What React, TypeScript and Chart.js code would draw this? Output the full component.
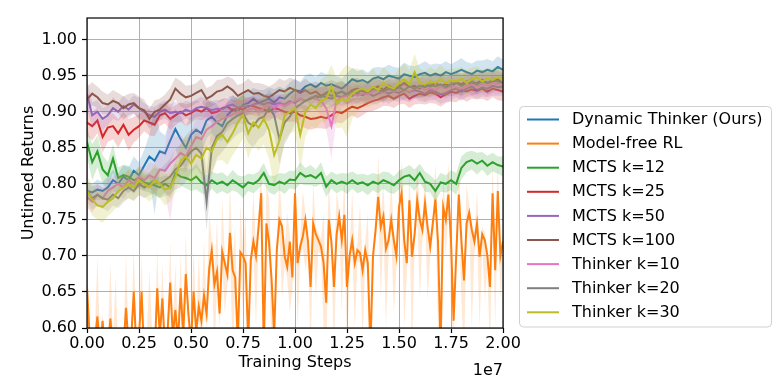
import React, { useEffect, useRef } from "react";
import { Chart, registerables } from "chart.js";

Chart.register(...registerables);

// Training steps (x, in units of 1e7)
const STEPS = [
  0.000, 0.025, 0.050, 0.075, 0.100, 0.125, 0.150, 0.175, 0.200, 0.225,
  0.250, 0.275, 0.300, 0.325, 0.350, 0.375, 0.400, 0.425, 0.450, 0.475,
  0.500, 0.525, 0.550, 0.575, 0.600, 0.625, 0.650, 0.675, 0.700, 0.725,
  0.750, 0.775, 0.800, 0.825, 0.850, 0.875, 0.900, 0.925, 0.950, 0.975,
  1.000, 1.025, 1.050, 1.075, 1.100, 1.125, 1.150, 1.175, 1.200, 1.225,
  1.250, 1.275, 1.300, 1.325, 1.350, 1.375, 1.400, 1.425, 1.450, 1.475,
  1.500, 1.525, 1.550, 1.575, 1.600, 1.625, 1.650, 1.675, 1.700, 1.725,
  1.750, 1.775, 1.800, 1.825, 1.850, 1.875, 1.900, 1.925, 1.950, 1.975,
  2.000,
];

const STEPS_FINE = [
  0.0000, 0.0125, 0.0250, 0.0375, 0.0500, 0.0625, 0.0750, 0.0875,
  0.1000, 0.1125, 0.1250, 0.1375, 0.1500, 0.1625, 0.1750, 0.1875,
  0.2000, 0.2125, 0.2250, 0.2375, 0.2500, 0.2625, 0.2750, 0.2875,
  0.3000, 0.3125, 0.3250, 0.3375, 0.3500, 0.3625, 0.3750, 0.3875,
  0.4000, 0.4125, 0.4250, 0.4375, 0.4500, 0.4625, 0.4750, 0.4875,
  0.5000, 0.5125, 0.5250, 0.5375, 0.5500, 0.5625, 0.5750, 0.5875,
  0.6000, 0.6125, 0.6250, 0.6375, 0.6500, 0.6625, 0.6750, 0.6875,
  0.7000, 0.7125, 0.7250, 0.7375, 0.7500, 0.7625, 0.7750, 0.7875,
  0.8000, 0.8125, 0.8250, 0.8375, 0.8500, 0.8625, 0.8750, 0.8875,
  0.9000, 0.9125, 0.9250, 0.9375, 0.9500, 0.9625, 0.9750, 0.9875,
  1.0000, 1.0125, 1.0250, 1.0375, 1.0500, 1.0625, 1.0750, 1.0875,
  1.1000, 1.1125, 1.1250, 1.1375, 1.1500, 1.1625, 1.1750, 1.1875,
  1.2000, 1.2125, 1.2250, 1.2375, 1.2500, 1.2625, 1.2750, 1.2875,
  1.3000, 1.3125, 1.3250, 1.3375, 1.3500, 1.3625, 1.3750, 1.3875,
  1.4000, 1.4125, 1.4250, 1.4375, 1.4500, 1.4625, 1.4750, 1.4875,
  1.5000, 1.5125, 1.5250, 1.5375, 1.5500, 1.5625, 1.5750, 1.5875,
  1.6000, 1.6125, 1.6250, 1.6375, 1.6500, 1.6625, 1.6750, 1.6875,
  1.7000, 1.7125, 1.7250, 1.7375, 1.7500, 1.7625, 1.7750, 1.7875,
  1.8000, 1.8125, 1.8250, 1.8375, 1.8500, 1.8625, 1.8750, 1.8875,
  1.9000, 1.9125, 1.9250, 1.9375, 1.9500, 1.9625, 1.9750, 1.9875,
  2.0000,
];

const Y_TICKS = [0.6, 0.65, 0.7, 0.75, 0.8, 0.85, 0.9, 0.95, 1.0];
const X_TICKS = [0, 0.25, 0.5, 0.75, 1.0, 1.25, 1.5, 1.75, 2.0];

// ---- Dynamic Thinker (Ours)
const BLUE = [
  0.790, 0.788, 0.792, 0.790, 0.795, 0.805, 0.800, 0.810, 0.805, 0.818,
  0.812, 0.825, 0.838, 0.832, 0.845, 0.842, 0.860, 0.876, 0.862, 0.850,
  0.868, 0.875, 0.870, 0.888, 0.893, 0.885, 0.880, 0.895, 0.903, 0.900,
  0.910, 0.912, 0.918, 0.912, 0.915, 0.918, 0.913, 0.920, 0.918, 0.925,
  0.930, 0.928, 0.935, 0.938, 0.934, 0.940, 0.936, 0.938, 0.935, 0.932,
  0.938, 0.945, 0.942, 0.944, 0.940, 0.946, 0.948, 0.945, 0.950, 0.948,
  0.946, 0.952, 0.950, 0.948, 0.952, 0.954, 0.950, 0.953, 0.950, 0.955,
  0.952, 0.955, 0.958, 0.955, 0.952, 0.957, 0.955, 0.958, 0.956, 0.962,
  0.958,
];
const BLUE_SPREAD = [
  12, 12, 14, 12, 15, 15, 14, 16, 18, 20,
  18, 22, 30, 75, 28, 25, 30, 28, 32, 30,
  28, 25, 30, 25, 22, 25, 20, 18, 20, 18,
  15, 16, 15, 18, 15, 16, 18, 15, 14, 16,
  15, 14, 16, 15, 14, 15, 16, 14, 15, 14,
  15, 16, 14, 15, 14, 15, 14, 16, 15, 14,
  15, 16, 14, 15, 14, 16, 15, 14, 16, 15,
  14, 15, 16, 14, 15, 14, 16, 15, 14, 15,
  14,
];

// ---- Model-free RL
const ORANGE = [
  0.657, 0.590, 0.570, 0.580, 0.616, 0.570, 0.610, 0.560, 0.570, 0.613,
  0.570, 0.580, 0.560, 0.590, 0.570, 0.628, 0.575, 0.585, 0.650, 0.570,
  0.590, 0.650, 0.560, 0.580, 0.570, 0.590, 0.560, 0.655, 0.590, 0.641,
  0.570, 0.595, 0.663, 0.590, 0.625, 0.580, 0.655, 0.590, 0.675, 0.620,
  0.580, 0.650, 0.595, 0.630, 0.610, 0.645, 0.620, 0.682, 0.708, 0.660,
  0.678, 0.620, 0.706, 0.690, 0.674, 0.732, 0.680, 0.670, 0.580, 0.705,
  0.700, 0.690, 0.580, 0.695, 0.720, 0.700, 0.741, 0.787, 0.570, 0.745,
  0.720, 0.667, 0.590, 0.708, 0.750, 0.741, 0.700, 0.685, 0.720, 0.670,
  0.787, 0.690, 0.713, 0.727, 0.750, 0.720, 0.657, 0.745, 0.730, 0.722,
  0.713, 0.690, 0.635, 0.750, 0.720, 0.657, 0.730, 0.755, 0.722, 0.757,
  0.657, 0.700, 0.722, 0.690, 0.708, 0.704, 0.680, 0.708, 0.690, 0.570,
  0.700, 0.736, 0.782, 0.740, 0.755, 0.710, 0.722, 0.750, 0.722, 0.700,
  0.768, 0.787, 0.722, 0.690, 0.777, 0.699, 0.730, 0.777, 0.750, 0.736,
  0.773, 0.740, 0.713, 0.745, 0.778, 0.720, 0.570, 0.768, 0.750, 0.785,
  0.722, 0.610, 0.700, 0.785, 0.722, 0.666, 0.745, 0.760, 0.736, 0.720,
  0.745, 0.699, 0.730, 0.722, 0.700, 0.657, 0.787, 0.680, 0.790, 0.700,
  0.720,
];
const ORANGE_HI = [
  0.668, 0.600, 0.580, 0.590, 0.700, 0.580, 0.620, 0.570, 0.580, 0.690,
  0.580, 0.670, 0.570, 0.600, 0.580, 0.700, 0.585, 0.600, 0.710, 0.580,
  0.600, 0.700, 0.570, 0.590, 0.680, 0.600, 0.570, 0.710, 0.600, 0.690,
  0.580, 0.605, 0.720, 0.600, 0.690, 0.590, 0.700, 0.600, 0.730, 0.630,
  0.590, 0.710, 0.605, 0.700, 0.620, 0.720, 0.630, 0.760, 0.720, 0.670,
  0.750, 0.630, 0.780, 0.700, 0.684, 0.800, 0.690, 0.740, 0.590, 0.770,
  0.710, 0.760, 0.590, 0.705, 0.790, 0.710, 0.751, 0.830, 0.580, 0.800,
  0.780, 0.677, 0.600, 0.718, 0.810, 0.751, 0.710, 0.760, 0.730, 0.680,
  0.830, 0.700, 0.723, 0.790, 0.760, 0.730, 0.667, 0.800, 0.740, 0.732,
  0.723, 0.760, 0.645, 0.810, 0.730, 0.667, 0.790, 0.765, 0.732, 0.810,
  0.667, 0.710, 0.790, 0.700, 0.718, 0.770, 0.690, 0.718, 0.760, 0.580,
  0.710, 0.746, 0.840, 0.750, 0.800, 0.720, 0.732, 0.810, 0.732, 0.710,
  0.800, 0.830, 0.732, 0.700, 0.820, 0.709, 0.740, 0.830, 0.760, 0.746,
  0.810, 0.750, 0.723, 0.755, 0.830, 0.730, 0.580, 0.810, 0.760, 0.830,
  0.732, 0.620, 0.710, 0.830, 0.732, 0.676, 0.800, 0.770, 0.746, 0.730,
  0.790, 0.709, 0.740, 0.732, 0.710, 0.667, 0.830, 0.690, 0.830, 0.710,
  0.730,
];
const ORANGE_LO = [
  0.640, 0.570, 0.550, 0.560, 0.600, 0.550, 0.590, 0.540, 0.550, 0.600,
  0.550, 0.560, 0.540, 0.570, 0.550, 0.610, 0.555, 0.565, 0.630, 0.550,
  0.570, 0.630, 0.540, 0.560, 0.550, 0.570, 0.540, 0.635, 0.570, 0.620,
  0.550, 0.575, 0.645, 0.570, 0.605, 0.560, 0.635, 0.570, 0.655, 0.600,
  0.560, 0.630, 0.575, 0.610, 0.590, 0.625, 0.600, 0.660, 0.690, 0.560,
  0.660, 0.600, 0.690, 0.620, 0.660, 0.715, 0.560, 0.655, 0.560, 0.690,
  0.620, 0.675, 0.560, 0.680, 0.705, 0.600, 0.725, 0.770, 0.550, 0.730,
  0.705, 0.560, 0.570, 0.690, 0.735, 0.640, 0.685, 0.670, 0.620, 0.655,
  0.770, 0.600, 0.700, 0.712, 0.680, 0.705, 0.560, 0.730, 0.640, 0.707,
  0.700, 0.600, 0.560, 0.735, 0.705, 0.560, 0.715, 0.740, 0.620, 0.742,
  0.560, 0.685, 0.707, 0.600, 0.693, 0.690, 0.580, 0.693, 0.675, 0.550,
  0.685, 0.720, 0.767, 0.640, 0.740, 0.600, 0.707, 0.735, 0.620, 0.685,
  0.753, 0.772, 0.600, 0.675, 0.762, 0.560, 0.715, 0.762, 0.640, 0.721,
  0.758, 0.640, 0.698, 0.730, 0.763, 0.600, 0.550, 0.753, 0.700, 0.770,
  0.620, 0.590, 0.685, 0.770, 0.640, 0.560, 0.730, 0.745, 0.600, 0.705,
  0.730, 0.600, 0.715, 0.640, 0.685, 0.560, 0.772, 0.600, 0.775, 0.640,
  0.700,
];

// ---- MCTS k=12
const GREEN = [
  0.858, 0.830, 0.845, 0.820, 0.812, 0.835, 0.808, 0.812, 0.810, 0.805,
  0.808, 0.802, 0.800, 0.798, 0.795, 0.800, 0.795, 0.815, 0.810, 0.808,
  0.805, 0.810, 0.802, 0.798, 0.805, 0.800, 0.803, 0.798, 0.805, 0.800,
  0.795, 0.802, 0.800, 0.805, 0.815, 0.800, 0.798, 0.803, 0.800, 0.806,
  0.805, 0.815, 0.810, 0.812, 0.808, 0.815, 0.796, 0.805, 0.800, 0.803,
  0.800, 0.805, 0.800, 0.802, 0.798, 0.803, 0.800, 0.805, 0.802, 0.798,
  0.805, 0.810, 0.812, 0.805, 0.815, 0.803, 0.800, 0.790, 0.802, 0.800,
  0.805, 0.800, 0.822, 0.830, 0.833, 0.828, 0.832, 0.825, 0.830, 0.826,
  0.824,
];
const GREEN_SPREAD = [
  20, 25, 22, 20, 18, 20, 15, 14, 15, 12,
  14, 12, 12, 13, 14, 12, 15, 14, 12, 14,
  15, 18, 15, 14, 12, 14, 13, 12, 14, 12,
  15, 12, 13, 12, 14, 12, 13, 12, 14, 12,
  13, 15, 12, 14, 12, 15, 14, 12, 13, 12,
  14, 12, 13, 12, 14, 12, 13, 12, 14, 12,
  13, 12, 14, 15, 13, 14, 12, 15, 13, 12,
  14, 15, 16, 14, 13, 15, 12, 14, 13, 12,
  14,
];

// ---- MCTS k=25
const RED = [
  0.885, 0.880, 0.888, 0.865, 0.878, 0.880, 0.870, 0.882, 0.868, 0.875,
  0.880, 0.888, 0.885, 0.882, 0.895, 0.898, 0.890, 0.895, 0.900, 0.895,
  0.898, 0.903, 0.900, 0.905, 0.898, 0.900, 0.905, 0.907, 0.902, 0.905,
  0.903, 0.908, 0.908, 0.905, 0.903, 0.900, 0.905, 0.903, 0.900, 0.898,
  0.900, 0.895, 0.893, 0.890, 0.891, 0.893, 0.891, 0.895, 0.900, 0.898,
  0.903, 0.907, 0.905, 0.908, 0.912, 0.915, 0.917, 0.920, 0.922, 0.918,
  0.922, 0.925, 0.918, 0.922, 0.925, 0.923, 0.927, 0.925, 0.920, 0.924,
  0.928, 0.926, 0.930, 0.928, 0.931, 0.929, 0.932, 0.928, 0.932, 0.930,
  0.928,
];
const RED_SPREAD = [
  18, 20, 18, 22, 20, 18, 20, 18, 22, 18,
  16, 15, 18, 16, 15, 14, 15, 14, 13, 15,
  14, 13, 12, 14, 13, 12, 13, 12, 14, 12,
  13, 12, 13, 12, 14, 13, 12, 14, 13, 12,
  14, 15, 16, 15, 14, 16, 15, 14, 15, 14,
  13, 12, 14, 13, 12, 14, 13, 12, 14, 13,
  12, 14, 13, 12, 14, 13, 15, 14, 13, 12,
  14, 13, 12, 14, 13, 12, 14, 13, 12, 14,
  13,
];

// ---- MCTS k=50
const PURPLE = [
  0.925, 0.895, 0.900, 0.890, 0.895, 0.905, 0.900, 0.908, 0.903, 0.910,
  0.905, 0.900, 0.895, 0.893, 0.900, 0.903, 0.898, 0.900, 0.898, 0.903,
  0.900, 0.905, 0.907, 0.905, 0.902, 0.904, 0.903, 0.908, 0.910, 0.906,
  0.908, 0.907, 0.910, 0.912, 0.910, 0.913, 0.910, 0.912, 0.910, 0.915,
  0.912, 0.918, 0.915, 0.920, 0.918, 0.922, 0.920, 0.918, 0.922, 0.920,
  0.925, 0.922, 0.925, 0.923, 0.926, 0.922, 0.925, 0.928, 0.925, 0.928,
  0.926, 0.930, 0.927, 0.930, 0.928, 0.925, 0.930, 0.928, 0.924, 0.926,
  0.930, 0.932, 0.928, 0.932, 0.935, 0.930, 0.934, 0.932, 0.936, 0.934,
  0.935,
];
const PURPLE_SPREAD = [
  20, 18, 16, 15, 14, 15, 13, 14, 12, 13,
  14, 12, 13, 14, 12, 13, 12, 14, 13, 12,
  13, 12, 14, 12, 13, 12, 14, 12, 13, 12,
  14, 12, 13, 12, 14, 12, 13, 12, 14, 12,
  13, 12, 14, 12, 13, 12, 14, 12, 13, 12,
  14, 12, 13, 12, 14, 12, 13, 12, 14, 12,
  13, 12, 14, 12, 13, 12, 14, 12, 13, 12,
  14, 12, 13, 12, 14, 12, 13, 12, 14, 12,
  13,
];

// ---- MCTS k=100
const BROWN = [
  0.917, 0.925, 0.920, 0.912, 0.910, 0.915, 0.912, 0.905, 0.910, 0.912,
  0.905, 0.902, 0.890, 0.900, 0.903, 0.910, 0.917, 0.932, 0.925, 0.920,
  0.922, 0.926, 0.930, 0.918, 0.922, 0.928, 0.930, 0.935, 0.930, 0.922,
  0.926, 0.930, 0.925, 0.926, 0.922, 0.920, 0.925, 0.930, 0.928, 0.933,
  0.930, 0.926, 0.930, 0.925, 0.928, 0.922, 0.926, 0.930, 0.925, 0.928,
  0.924, 0.930, 0.932, 0.928, 0.926, 0.932, 0.935, 0.930, 0.936, 0.932,
  0.935, 0.940, 0.934, 0.936, 0.932, 0.938, 0.935, 0.940, 0.936, 0.938,
  0.935, 0.940, 0.938, 0.942, 0.938, 0.940, 0.944, 0.940, 0.942, 0.945,
  0.940,
];
const BROWN_SPREAD = [
  18, 16, 15, 16, 14, 15, 14, 16, 15, 14,
  16, 15, 14, 16, 15, 14, 16, 15, 18, 16,
  15, 14, 16, 15, 14, 16, 15, 14, 16, 15,
  14, 16, 15, 14, 16, 15, 14, 16, 15, 14,
  15, 14, 16, 15, 14, 16, 15, 14, 16, 15,
  14, 16, 15, 14, 16, 15, 14, 16, 15, 14,
  15, 14, 16, 15, 14, 16, 15, 14, 16, 15,
  14, 16, 15, 14, 16, 15, 14, 16, 15, 14,
  15,
];

// ---- Thinker k=10
const PINK = [
  0.782, 0.775, 0.785, 0.780, 0.790, 0.795, 0.800, 0.795, 0.805, 0.800,
  0.810, 0.805, 0.812, 0.808, 0.820, 0.818, 0.828, 0.835, 0.843, 0.838,
  0.852, 0.865, 0.862, 0.875, 0.880, 0.886, 0.890, 0.893, 0.896, 0.900,
  0.898, 0.903, 0.905, 0.900, 0.905, 0.908, 0.905, 0.910, 0.908, 0.912,
  0.915, 0.918, 0.915, 0.920, 0.918, 0.915, 0.905, 0.880, 0.915, 0.920,
  0.922, 0.925, 0.922, 0.926, 0.924, 0.928, 0.930, 0.926, 0.930, 0.928,
  0.932, 0.930, 0.928, 0.932, 0.935, 0.930, 0.933, 0.930, 0.935, 0.932,
  0.936, 0.934, 0.932, 0.936, 0.938, 0.935, 0.938, 0.936, 0.940, 0.938,
  0.940,
];
const PINK_SPREAD = [
  15, 15, 14, 15, 16, 15, 14, 16, 15, 14,
  16, 15, 18, 20, 25, 30, 80, 30, 25, 22,
  20, 25, 28, 25, 22, 20, 18, 20, 18, 16,
  15, 16, 15, 14, 15, 16, 15, 14, 15, 14,
  15, 14, 15, 14, 16, 20, 30, 45, 25, 15,
  14, 15, 14, 15, 14, 13, 14, 15, 14, 13,
  14, 15, 14, 13, 14, 15, 14, 13, 14, 15,
  14, 13, 14, 15, 14, 13, 14, 15, 14, 13,
  14,
];

// ---- Thinker k=20
const GRAY = [
  0.790, 0.780, 0.785, 0.780, 0.778, 0.785, 0.780, 0.790, 0.795, 0.790,
  0.800, 0.795, 0.800, 0.805, 0.800, 0.805, 0.810, 0.820, 0.825, 0.835,
  0.845, 0.850, 0.842, 0.775, 0.850, 0.866, 0.872, 0.884, 0.890, 0.895,
  0.898, 0.885, 0.880, 0.890, 0.893, 0.905, 0.895, 0.862, 0.885, 0.893,
  0.905, 0.910, 0.915, 0.918, 0.922, 0.920, 0.925, 0.922, 0.925, 0.928,
  0.924, 0.928, 0.926, 0.930, 0.928, 0.932, 0.930, 0.928, 0.932, 0.930,
  0.934, 0.930, 0.935, 0.932, 0.936, 0.934, 0.937, 0.935, 0.938, 0.934,
  0.938, 0.940, 0.936, 0.940, 0.942, 0.938, 0.942, 0.940, 0.944, 0.942,
  0.940,
];
const GRAY_SPREAD = [
  15, 16, 15, 14, 16, 15, 14, 16, 15, 14,
  16, 15, 16, 18, 20, 22, 25, 28, 30, 32,
  30, 28, 30, 40, 35, 30, 28, 30, 28, 26,
  25, 28, 30, 28, 26, 25, 28, 35, 30, 25,
  22, 20, 18, 16, 15, 14, 15, 14, 15, 14,
  13, 14, 15, 14, 13, 14, 15, 14, 13, 14,
  15, 14, 13, 14, 15, 14, 13, 14, 15, 14,
  13, 14, 15, 14, 13, 14, 15, 14, 13, 14,
  13,
];

// ---- Thinker k=30
const OLIVE = [
  0.790, 0.778, 0.770, 0.768, 0.775, 0.780, 0.790, 0.795, 0.800, 0.795,
  0.805, 0.800, 0.795, 0.805, 0.800, 0.792, 0.795, 0.810, 0.832, 0.838,
  0.828, 0.840, 0.835, 0.850, 0.845, 0.862, 0.868, 0.858, 0.870, 0.885,
  0.895, 0.870, 0.885, 0.878, 0.890, 0.875, 0.840, 0.860, 0.895, 0.900,
  0.905, 0.868, 0.900, 0.910, 0.905, 0.915, 0.918, 0.935, 0.912, 0.918,
  0.915, 0.925, 0.930, 0.932, 0.928, 0.935, 0.930, 0.940, 0.935, 0.932,
  0.940, 0.945, 0.938, 0.955, 0.940, 0.938, 0.942, 0.940, 0.945, 0.940,
  0.944, 0.942, 0.946, 0.940, 0.945, 0.948, 0.942, 0.946, 0.944, 0.948,
  0.945,
];
const OLIVE_SPREAD = [
  20, 22, 20, 22, 20, 18, 20, 18, 20, 18,
  20, 18, 20, 22, 20, 22, 20, 22, 25, 28,
  30, 32, 30, 35, 32, 30, 35, 32, 30, 35,
  32, 35, 30, 32, 35, 40, 45, 40, 35, 30,
  32, 50, 35, 30, 28, 30, 32, 30, 35, 40,
  50, 35, 30, 25, 22, 25, 20, 22, 20, 18,
  20, 22, 20, 25, 20, 18, 20, 18, 20, 18,
  16, 18, 16, 18, 16, 15, 16, 15, 16, 15,
  16,
];

const FONT = "'DejaVu Sans', 'Liberation Sans', sans-serif";

type SeriesDef = {
  label: string;
  color: string;
  alpha: number;
  x: number[];
  mean: number[];
  lo: number[];
  hi: number[];
};

const band = (mean: number[], spread: number[], sign: number) =>
  mean.map((m, i) => m + (sign * spread[i]) / 1000);

const SERIES: SeriesDef[] = [
  { label: "Dynamic Thinker (Ours)", color: "#1f77b4", alpha: 0.2, x: STEPS, mean: BLUE, lo: band(BLUE, BLUE_SPREAD, -1), hi: band(BLUE, BLUE_SPREAD, 1) },
  { label: "Model-free RL", color: "#ff7f0e", alpha: 0.18, x: STEPS_FINE, mean: ORANGE, lo: ORANGE_LO, hi: ORANGE_HI },
  { label: "MCTS k=12", color: "#2ca02c", alpha: 0.2, x: STEPS, mean: GREEN, lo: band(GREEN, GREEN_SPREAD, -1), hi: band(GREEN, GREEN_SPREAD, 1) },
  { label: "MCTS k=25", color: "#d62728", alpha: 0.2, x: STEPS, mean: RED, lo: band(RED, RED_SPREAD, -1), hi: band(RED, RED_SPREAD, 1) },
  { label: "MCTS k=50", color: "#9467bd", alpha: 0.2, x: STEPS, mean: PURPLE, lo: band(PURPLE, PURPLE_SPREAD, -1), hi: band(PURPLE, PURPLE_SPREAD, 1) },
  { label: "MCTS k=100", color: "#8c564b", alpha: 0.2, x: STEPS, mean: BROWN, lo: band(BROWN, BROWN_SPREAD, -1), hi: band(BROWN, BROWN_SPREAD, 1) },
  { label: "Thinker k=10", color: "#e377c2", alpha: 0.2, x: STEPS, mean: PINK, lo: band(PINK, PINK_SPREAD, -1), hi: band(PINK, PINK_SPREAD, 1) },
  { label: "Thinker k=20", color: "#7f7f7f", alpha: 0.2, x: STEPS, mean: GRAY, lo: band(GRAY, GRAY_SPREAD, -1), hi: band(GRAY, GRAY_SPREAD, 1) },
  { label: "Thinker k=30", color: "#bcbd22", alpha: 0.2, x: STEPS, mean: OLIVE, lo: band(OLIVE, OLIVE_SPREAD, -1), hi: band(OLIVE, OLIVE_SPREAD, 1) },
];

function rgba(hex: string, a: number) {
  const n = parseInt(hex.slice(1), 16);
  return `rgba(${(n >> 16) & 255},${(n >> 8) & 255},${n & 255},${a})`;
}

const framePlugin = {
  id: "mplFrame",
  afterDatasetsDraw(chart: any) {
    const { ctx, chartArea } = chart;
    const { left, top, right, bottom } = chartArea;
    ctx.save();
    ctx.strokeStyle = "#000";
    ctx.lineWidth = 1.2;
    ctx.strokeRect(left, top, right - left, bottom - top);
    ctx.restore();
  },
  afterDraw(chart: any) {
    const { ctx, chartArea } = chart;
    ctx.save();
    // offset text
    ctx.font = `16px ${FONT}`;
    ctx.fillStyle = "#000";
    ctx.textAlign = "right";
    ctx.textBaseline = "middle";
    ctx.fillText("1e7", chartArea.right, 371);

    // legend box
    const bx = 519.5, by = 106.5, bw = 252, bh = 220.5, r = 4;
    ctx.beginPath();
    ctx.moveTo(bx + r, by);
    ctx.lineTo(bx + bw - r, by);
    ctx.quadraticCurveTo(bx + bw, by, bx + bw, by + r);
    ctx.lineTo(bx + bw, by + bh - r);
    ctx.quadraticCurveTo(bx + bw, by + bh, bx + bw - r, by + bh);
    ctx.lineTo(bx + r, by + bh);
    ctx.quadraticCurveTo(bx, by + bh, bx, by + bh - r);
    ctx.lineTo(bx, by + r);
    ctx.quadraticCurveTo(bx, by, bx + r, by);
    ctx.closePath();
    ctx.fillStyle = "#ffffff";
    ctx.fill();
    ctx.strokeStyle = "#d0d0d0";
    ctx.lineWidth = 1;
    ctx.stroke();

    const mains = chart.data.datasets.filter((d: any) => d.isMain);
    ctx.textAlign = "left";
    ctx.textBaseline = "middle";
    mains.forEach((d: any, k: number) => {
      const y = 119.5 + k * 24.1;
      ctx.strokeStyle = d.borderColor;
      ctx.lineWidth = 2;
      ctx.beginPath();
      ctx.moveTo(527, y);
      ctx.lineTo(559, y);
      ctx.stroke();
      ctx.fillStyle = "#000";
      ctx.fillText(d.label, 572, y + 0.5);
    });
    ctx.restore();
  },
};

export default function App() {
  const ref = useRef<HTMLCanvasElement>(null);

  useEffect(() => {
    const canvas = ref.current;
    if (!canvas) return;
    const datasets: any[] = [];
    let seq = 0;
    const push = (ds: any) => {
      ds.order = 1000 - seq;
      seq += 1;
      datasets.push(ds);
    };
    SERIES.forEach((s) => {
      push({
        label: s.label + " lower",
        data: s.x.map((x, i) => ({ x, y: s.lo[i] })),
        borderWidth: 0,
        borderColor: "rgba(0,0,0,0)",
        pointRadius: 0,
        fill: false,
        clip: 0,
      });
      push({
        label: s.label + " upper",
        data: s.x.map((x, i) => ({ x, y: s.hi[i] })),
        borderWidth: 0,
        borderColor: "rgba(0,0,0,0)",
        backgroundColor: rgba(s.color, s.alpha),
        pointRadius: 0,
        fill: "-1",
        clip: 0,
      });
      push({
        label: s.label,
        isMain: true,
        data: s.x.map((x, i) => ({ x, y: s.mean[i] })),
        borderColor: s.color,
        backgroundColor: s.color,
        borderWidth: 2,
        pointRadius: 0,
        fill: false,
        clip: 0,
      });
    });

    const tickFont = { family: FONT, size: 16 };
    const chart = new Chart(canvas, {
      type: "line",
      data: { datasets },
      plugins: [framePlugin],
      options: {
        animation: false,
        responsive: false,
        devicePixelRatio: 1,
        layout: { padding: { top: 18, right: 280, bottom: 0, left: 0 } },
        elements: { line: { tension: 0 } },
        plugins: {
          legend: { display: false },
          tooltip: { enabled: false },
          filler: { propagate: false },
        },
        scales: {
          x: {
            type: "linear",
            min: 0,
            max: 2,
            afterFit: (scale: any) => {
              scale.height = 52;
            },
            afterBuildTicks: (scale: any) => {
              scale.ticks = X_TICKS.map((v) => ({ value: v }));
            },
            ticks: {
              font: tickFont,
              color: "#000",
              padding: 1,
              maxRotation: 0,
              callback: (v: any) => Number(v).toFixed(2),
            },
            grid: {
              color: "#b0b0b0",
              lineWidth: 1,
              drawTicks: true,
              tickLength: 5,
              tickColor: "#000",
              tickWidth: 1.2,
            },
            border: { display: false },
            title: {
              display: true,
              text: "Training Steps",
              font: tickFont,
              color: "#000",
              padding: { top: 0, bottom: 8 },
            },
          },
          y: {
            type: "linear",
            min: 0.6,
            max: 1.03,
            afterFit: (scale: any) => {
              scale.width = 87;
            },
            afterBuildTicks: (scale: any) => {
              scale.ticks = Y_TICKS.map((v) => ({ value: v }));
            },
            ticks: {
              font: tickFont,
              color: "#000",
              padding: 5,
              callback: (v: any) => Number(v).toFixed(2),
            },
            grid: {
              color: "#b0b0b0",
              lineWidth: 1,
              drawTicks: true,
              tickLength: 5,
              tickColor: "#000",
              tickWidth: 1.2,
            },
            border: { display: false },
            title: {
              display: true,
              text: "Untimed Returns",
              font: tickFont,
              color: "#000",
              padding: { top: 19, bottom: 0 },
            },
          },
        },
      } as any,
    });
    return () => chart.destroy();
  }, []);

  return (
    <div style={{ position: "absolute", left: 0, top: 0, width: 783, height: 380, background: "#fff" }}>
      <canvas ref={ref} width={783} height={380} style={{ display: "block" }} />
    </div>
  );
}
